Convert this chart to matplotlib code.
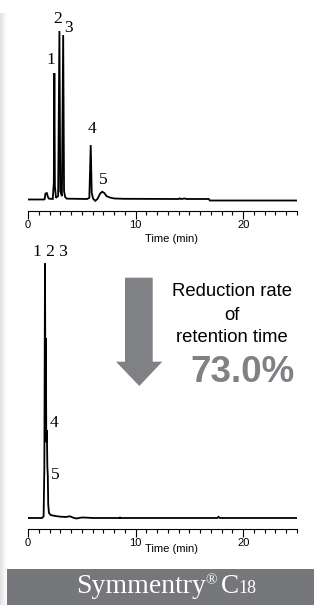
import matplotlib.pyplot as plt
import numpy as np
from matplotlib.patches import Polygon, Rectangle

plt.rcParams['font.family'] = ['Liberation Sans', 'DejaVu Sans']

# Chromatogramas (tempo em min, sinal relativo; pico 2 de cima = 100)
top_time = [0, 1.5, 1.55, 1.62, 1.75, 1.85, 1.95, 2.3, 2.4, 2.45, 2.5, 2.6, 2.8,
            2.92, 3.0, 3.15, 3.27, 3.35, 3.45, 3.6, 5.5, 5.7, 5.83, 5.92, 6.05,
            6.25, 6.45, 6.7, 6.9, 7.1, 7.3, 7.6, 8.0, 9.0, 14.0, 14.1, 14.2, 14.6,
            14.7, 16.8, 16.9, 25]
top_signal = [0, 0, 0.3, 3.5, 3.8, 1.5, 0.5, 0.3, 10, 75, 8, 1, 2,
              100, 5, 2, 97.6, 5, 1.5, 0.5, 0.3, 1, 32.3, 4, 0.5,
              -0.8, 0.3, 3.5, 4.6, 3.8, 2, 1.2, 0.6, 0.4, 0.3, 0.7, 0.3, 0.6,
              0.3, 0.3, -0.6, -0.6]
top_labels = ['1', '2', '3', '4', '5']
top_label_x = [2.09, 2.79, 3.77, 5.95, 7.02]
top_label_y = [82.8, 107.1, 101.5, 41.8, 11.6]

bot_time = [0, 1.3, 1.45, 1.52, 1.58, 1.62, 1.66, 1.7, 1.75, 1.8, 1.84, 1.88,
            1.95, 2.1, 2.5, 3.0, 3.5, 3.9, 4.2, 4.5, 5.0, 5.5, 6.0, 8.5, 8.55,
            8.6, 17.6, 17.7, 17.85, 25]
bot_signal = [0, 0, 1, 30, 151, 70, 106.8, 45, 52.2, 30, 25.5, 8,
              3, 1.8, 1.2, 0.8, 0.6, 1, 0.2, -0.3, 0.3, 0.2, 0, 0, 0.5,
              0, 0, 0.7, 0, 0]
bot_labels = ['1 2 3', '4', '5']
bot_label_x = [2.05, 2.42, 2.51]
bot_label_y = [157.6, 56.4, 25.5]

W, H = 314, 605
fig = plt.figure(figsize=(W / 100, H / 100), dpi=100)
fig.patch.set_facecolor('white')


def fx(px):
    return px / W


def fy(py):
    return 1 - py / H


# faixa cinza à esquerda
strip = fig.add_axes([0, 0, fx(7), fy(13)])
strip.imshow(np.linspace(0.88, 1.0, 20).reshape(1, -1), cmap='gray', vmin=0, vmax=1,
             aspect='auto', extent=[0, 1, 0, 1])
strip.axis('off')


def chromatogram(ax, t, s, labels, lx, ly, ylim, xlabel_y):
    ax.plot(t, s, color='black', lw=1.3, solid_joinstyle='miter')
    ax.set_xlim(0, 25)
    ax.set_ylim(*ylim)
    for side in ['top', 'left', 'right']:
        ax.spines[side].set_visible(False)
    ax.spines['bottom'].set_linewidth(0.8)
    ax.set_yticks([])
    ax.set_xticks([0, 10, 20])
    ax.set_xticks([i for i in range(26) if i % 10 != 0], minor=True)
    ax.tick_params(axis='x', which='major', direction='out', length=5.5, width=0.8,
                   pad=1.5, labelsize=8)
    ax.tick_params(axis='x', which='minor', direction='out', length=2.6, width=0.8)
    ax.set_xlabel('Time (min)', fontsize=8)
    ax.xaxis.set_label_coords(0.535, xlabel_y)
    ax.xaxis.label.set_va('center')
    ax.patch.set_alpha(0)
    for lab, x, y in zip(labels, lx, ly):
        ax.text(x, y, lab, ha='center', va='center', fontsize=12.5,
                family='Liberation Serif', clip_on=False)


ax1 = fig.add_axes([fx(28), fy(210.7), fx(269), (210.7 - 15) / H])
chromatogram(ax1, top_time, top_signal, top_labels, top_label_x, top_label_y,
             (-6.65, 109.5), -(239 - 210.7) / 195.7)

ax2 = fig.add_axes([fx(28), fy(528.7), fx(269), (528.7 - 250) / H])
chromatogram(ax2, bot_time, bot_signal, bot_labels, bot_label_x, bot_label_y,
             (-6.35, 159), -(549 - 528.7) / 278.7)

# seta e texto
arrow_px = [(125, 277.7), (152.7, 277.7), (152.7, 361.7), (162.3, 361.7),
            (139.3, 386), (116, 361.7), (125, 361.7)]
fig.patches.append(Polygon([(fx(x), fy(y)) for x, y in arrow_px], closed=True,
                           transform=fig.transFigure, facecolor='#808185',
                           edgecolor='none'))
for txt, y in zip(['Reduction rate', 'of', 'retention time'], [291.5, 315, 338]):
    fig.text(fx(232), fy(y), txt, ha='center', va='center', fontsize=13.3)
fig.text(fx(242), fy(372.5), '73.0%', ha='center', va='center', fontsize=26.5,
         fontweight='bold', color='#808185')

# caixa do nome da coluna
fig.patches.append(Rectangle((fx(7), 0), 1 - fx(7), fy(569), transform=fig.transFigure,
                             facecolor='#76777b', edgecolor='none'))
serif = dict(ha='left', va='baseline', color='white', family='Liberation Serif')
fig.text(fx(76), fy(593), 'Symmentry', fontsize=20, **serif)
fig.text(fx(205), fy(584), '®', fontsize=11, **serif)
fig.text(fx(221), fy(593), 'C', fontsize=19.5, **serif)
fig.text(fx(238.5), fy(593), '18', fontsize=13, **serif)

fig.savefig('out.png', dpi=100)
